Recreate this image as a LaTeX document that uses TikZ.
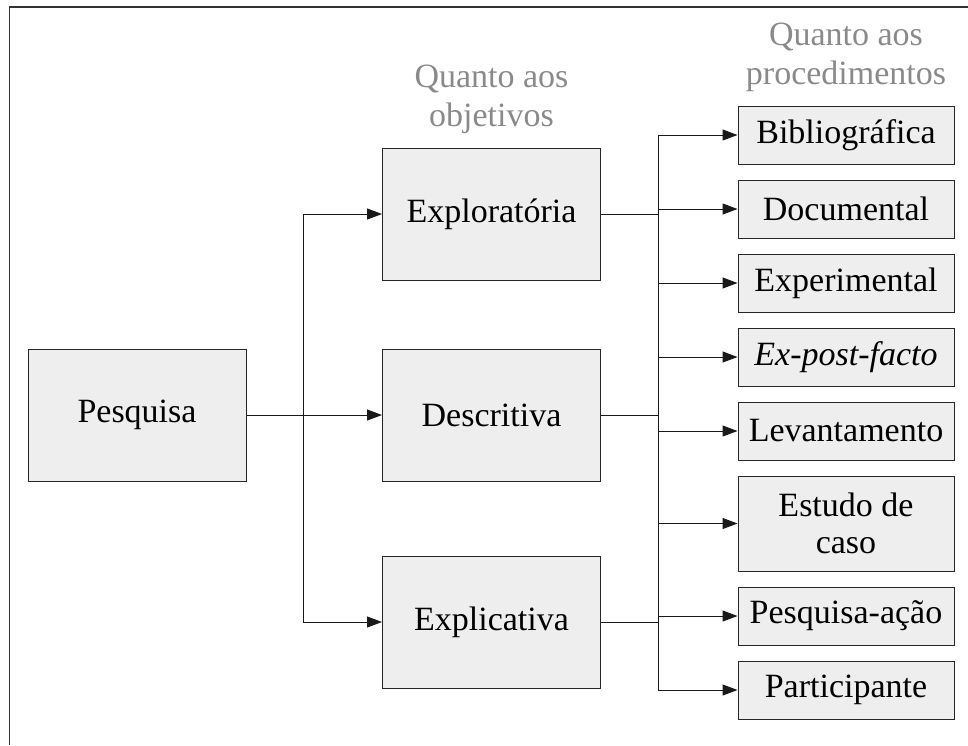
\documentclass[tikz,border=0pt]{standalone}
\usepackage{fontspec}
\setmainfont{Liberation Serif}
\usetikzlibrary{positioning,arrows.meta}
\definecolor{boxfill}{HTML}{EEEEEE}
\definecolor{capgray}{HTML}{8A8A8A}

\begin{document}
\begin{tikzpicture}[x=1pt, y=-1pt,
    box/.style={draw=black!85, fill=boxfill, line width=1pt, align=center, inner sep=0pt,
      font=\fontsize{34}{37}\selectfont},
    bigbox/.style={box, minimum width=218pt, minimum height=132pt},
    smallbox/.style={box, minimum width=216pt, minimum height=58pt},
    caption/.style={text=capgray, align=center, inner sep=0pt, font=\fontsize{34}{39}\selectfont},
    link/.style={black!90, line width=1pt, -{Triangle[length=15pt, width=11pt]}},
    wire/.style={black!90, line width=1pt}]
    \useasboundingbox (0,0) rectangle (968,745);
    \draw[black!80, line width=1.2pt] (9.5,745) -- (9.5,7) -- (968,7);

    % left and middle column
    \node[bigbox] (pesq) at (137,415) {Pesquisa};
    \node[bigbox] (explo) at (491.5,214) {Exploratória};
    \node[bigbox] (desc) at (491.5,415) {Descritiva};
    \node[bigbox] (expli) at (491.5,622) {Explicativa};
    \node[caption, above=14pt of explo.north] (objcap) {Quanto aos\\objetivos};

    % right column
    \foreach \name/\y/\txt in {bib/135/Bibliográfica, doc/209/Documental, expe/283/Experimental,
        epf/357/\textit{Ex-post-facto}, lev/431/Levantamento, pesqac/616/Pesquisa-ação,
        part/690/Participante}
      \node[smallbox] (\name) at (846,\y) {\txt};
    \node[smallbox, minimum height=95pt] (caso) at (846,523.5) {Estudo de\\caso};
    \node[caption, above=14pt of bib.north] (procap) {Quanto aos\\procedimentos};

    % connectors
    \coordinate (objbus) at (303,415);
    \coordinate (procbus) at (658,415);
    \draw[link] (pesq.east) -- (desc.west);
    \draw[link] (objbus) |- (explo.west);
    \draw[link] (objbus) |- (expli.west);
    \foreach \n in {explo, desc, expli}
      \draw[wire] (\n.east) -- (\n.east -| procbus);
    \draw[wire] (procbus |- bib.west) -- (procbus |- part.west);
    \foreach \n in {bib, doc, expe, epf, lev, caso, pesqac, part}
      \draw[link] (procbus |- \n.west) -- (\n.west);
\end{tikzpicture}
\end{document}
